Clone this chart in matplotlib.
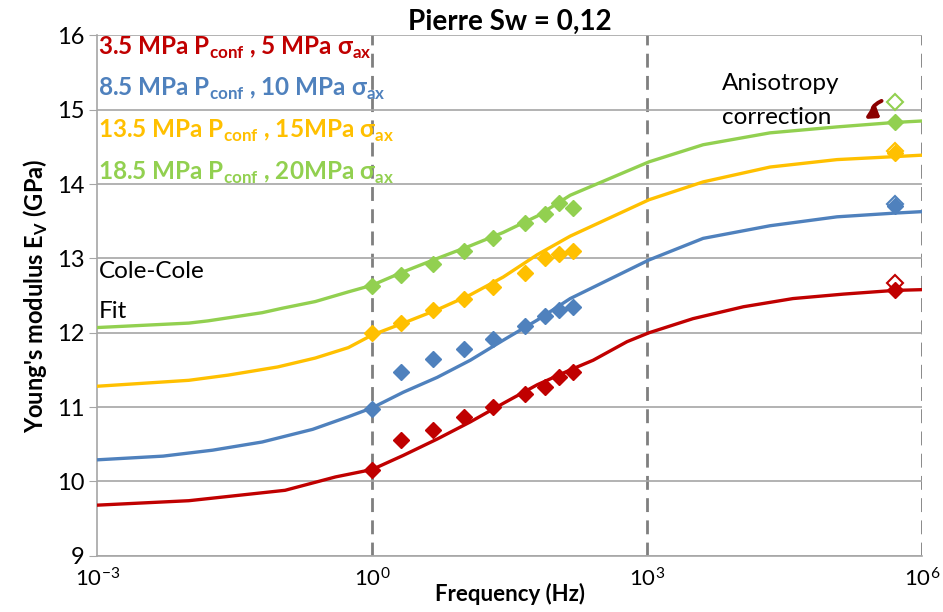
import numpy as np
import matplotlib.pyplot as plt
from matplotlib.ticker import FixedLocator, LogFormatterMathtext, NullLocator

plt.rcParams['font.family'] = ['Lato', 'DejaVu Sans']
plt.rcParams['mathtext.fontset'] = 'custom'
plt.rcParams['mathtext.rm'] = 'Lato'

# Cole-Cole fits (log10 frequency, modulus in GPa)
fit_logf_red = [-3, -2, -0.95, -0.40, 0, 0.34, 0.71, 1.07, 1.43, 1.80, 2.16, 2.41, 2.78, 3.02, 3.50, 4.05, 4.59, 5.14, 5.70, 6.0]
fit_red = [9.68, 9.74, 9.88, 10.06, 10.16, 10.35, 10.57, 10.80, 11.05, 11.30, 11.50, 11.63, 11.88, 12.00, 12.19, 12.35, 12.46, 12.52, 12.57, 12.58]

fit_logf_blue = [-3, -2.28, -1.74, -1.20, -0.65, -0.26, 0, 0.34, 0.71, 1.07, 1.43, 1.80, 2.16, 3.02, 3.61, 4.34, 5.07, 5.70, 6.0]
fit_blue = [10.29, 10.34, 10.42, 10.53, 10.70, 10.87, 10.99, 11.20, 11.40, 11.63, 11.90, 12.17, 12.46, 12.98, 13.27, 13.44, 13.56, 13.61, 13.63]

fit_logf_yellow = [-3, -2, -1.57, -1.03, -0.62, -0.26, 0, 0.34, 0.71, 1.07, 1.43, 1.80, 2.16, 3.02, 3.61, 4.34, 5.07, 5.70, 6.0]
fit_yellow = [11.28, 11.36, 11.43, 11.54, 11.66, 11.80, 11.97, 12.13, 12.31, 12.51, 12.75, 13.05, 13.30, 13.79, 14.03, 14.23, 14.33, 14.37, 14.39]

fit_logf_green = [-3, -2, -1.79, -1.20, -0.98, -0.62, -0.26, 0, 0.34, 0.71, 1.07, 1.43, 1.80, 2.16, 3.02, 3.61, 4.34, 5.07, 5.70, 6.0]
fit_green = [12.07, 12.13, 12.16, 12.27, 12.33, 12.42, 12.55, 12.64, 12.82, 13.00, 13.17, 13.35, 13.57, 13.85, 14.30, 14.53, 14.69, 14.77, 14.83, 14.85]

# measured points
freq = [1, 2.05, 4.6, 10, 21, 46, 77, 110, 155, 5e5]
meas_red = [10.15, 10.56, 10.69, 10.86, 11.00, 11.18, 11.27, 11.41, 11.47, 12.57]
meas_blue = [10.97, 11.47, 11.65, 11.78, 11.92, 12.09, 12.23, 12.30, 12.34, 13.70]
meas_yellow = [12.00, 12.13, 12.31, 12.45, 12.62, 12.80, 13.00, 13.06, 13.10, 14.42]
meas_green = [12.63, 12.78, 12.92, 13.10, 13.28, 13.48, 13.60, 13.74, 13.68, 14.84]

# values before anisotropy correction
f_aniso = 5e5
raw_aniso = [12.67, 13.73, 14.45, 15.11]

labels = [
    r'3.5 MPa P$_{\mathregular{conf}}$ , 5 MPa σ$_{\mathregular{ax}}$',
    r'8.5 MPa P$_{\mathregular{conf}}$ , 10 MPa σ$_{\mathregular{ax}}$',
    r'13.5 MPa P$_{\mathregular{conf}}$ , 15MPa σ$_{\mathregular{ax}}$',
    r'18.5 MPa P$_{\mathregular{conf}}$ , 20MPa σ$_{\mathregular{ax}}$',
]
colors = ['#C00000', '#4F81BD', '#FFC000', '#92D050']

fig = plt.figure(figsize=(9.43, 6.12), dpi=100)
ax = fig.add_axes([0.103, 0.092, 0.875, 0.850])

fits = [(fit_logf_red, fit_red), (fit_logf_blue, fit_blue),
        (fit_logf_yellow, fit_yellow), (fit_logf_green, fit_green)]
meas = [meas_red, meas_blue, meas_yellow, meas_green]

for (lf, e), m, raw, c in zip(fits, meas, raw_aniso, colors):
    ax.plot(10 ** np.array(lf), e, color=c, lw=2.4, zorder=3)
    ax.plot([f_aniso], [raw], ls='none', marker='D', ms=8, mfc='white',
            mec=c, mew=1.5, zorder=4)
    ax.plot(freq, m, ls='none', marker='D', ms=8.5, color=c, zorder=5)

ax.set_xscale('log')
ax.set_xlim(1e-3, 1e6)
ax.set_ylim(9, 16)
ax.xaxis.set_major_locator(FixedLocator([1e-3, 1e0, 1e3, 1e6]))
ax.xaxis.set_major_formatter(LogFormatterMathtext())
ax.xaxis.set_minor_locator(NullLocator())
ax.set_yticks(range(9, 17))

ax.grid(axis='y', color='#a6a6a6', lw=1.2, zorder=1)
for xv in [1e0, 1e3, 1e6]:
    ax.axvline(xv, color='#7f7f7f', lw=2, ls=(0, (5, 3)), zorder=1)

for s in ['top', 'right']:
    ax.spines[s].set_visible(False)
for s in ['left', 'bottom']:
    ax.spines[s].set_color('#a6a6a6')
    ax.spines[s].set_linewidth(1.2)

ax.tick_params(axis='y', length=6, color='#a6a6a6', labelsize=17, pad=3)
ax.tick_params(axis='x', length=0, labelsize=16, pad=8)

ax.set_xlabel('Frequency (Hz)', fontsize=16, fontweight='bold', labelpad=-5)
ax.set_ylabel(r"Young's modulus E$_{\mathregular{V}}$ (GPa)", fontsize=17,
              fontweight='bold', labelpad=5)
ax.set_title('Pierre Sw = 0,12', fontsize=20, fontweight='bold', pad=4)

legend_y = [0.9625, 0.884, 0.803, 0.722]
for lab, c, yy in zip(labels, colors, legend_y):
    ax.text(0.001, yy, lab, transform=ax.transAxes, color=c,
            fontsize=17.5, fontweight='bold', va='baseline', ha='left', zorder=6)

ax.text(1.04e-3, 12.82, 'Cole-Cole', fontsize=17.5, va='center', ha='left')
ax.text(1.04e-3, 12.28, 'Fit', fontsize=17.5, va='center', ha='left')
ax.text(6.5e3, 15.36, 'Anisotropy', fontsize=17.5, va='center', ha='left')
ax.text(6.5e3, 14.90, 'correction', fontsize=17.5, va='center', ha='left')

# curved arrow from the raw value down to the corrected one
ax.annotate('', xy=(3.5e5, 14.89), xytext=(3.6e5, 15.12),
            arrowprops=dict(arrowstyle='-|>,head_length=0.4,head_width=0.3',
                            connectionstyle='arc3,rad=0.9', color='#8B0000',
                            lw=2.8, mutation_scale=14, shrinkA=0, shrinkB=0))

fig.savefig('out.png', dpi=100)
